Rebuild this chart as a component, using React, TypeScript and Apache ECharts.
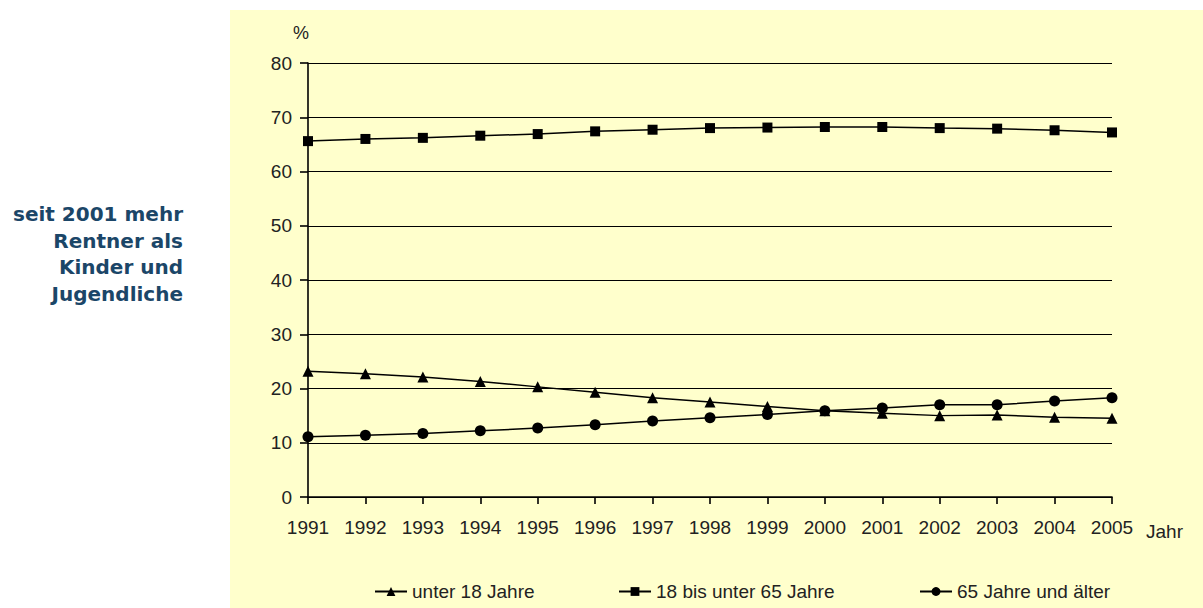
import React, { useEffect, useRef } from "react";
import * as echarts from "echarts";

// Altersstruktur der Bevölkerung, Anteile in %
const years = [
  "1991", "1992", "1993", "1994", "1995", "1996", "1997", "1998",
  "1999", "2000", "2001", "2002", "2003", "2004", "2005",
];
const unter18 = [23.2, 22.7, 22.1, 21.3, 20.3, 19.3, 18.3, 17.5, 16.7, 15.9, 15.45, 15.0, 15.1, 14.7, 14.5];
const von18bis65 = [65.6, 66.0, 66.2, 66.6, 66.9, 67.4, 67.7, 68.0, 68.1, 68.2, 68.2, 68.0, 67.9, 67.6, 67.2];
const ab65 = [11.1, 11.4, 11.7, 12.2, 12.7, 13.3, 14.0, 14.6, 15.2, 15.9, 16.4, 17.0, 17.0, 17.7, 18.3];

const seriesNames = ["unter 18 Jahre", "18 bis unter 65 Jahre", "65 Jahre und älter"];
const noteLines = ["seit 2001 mehr", "Rentner als", "Kinder und", "Jugendliche"];

const FONT = "'Liberation Sans', Arial, sans-serif";
const NOTE_FONT = "'DejaVu Sans', sans-serif";
const TEXT = "#222222";

export default function App() {
  const ref = useRef<HTMLDivElement>(null);

  useEffect(() => {
    if (!ref.current) return;
    const chart = echarts.init(ref.current, undefined, { renderer: "svg" });

    const lineSeries = (name: string, data: number[], symbol: string, size: number) => ({
      name,
      type: "line",
      data,
      symbol,
      symbolSize: size,
      showSymbol: true,
      color: "#000000",
      itemStyle: { color: "#000000" },
      lineStyle: { color: "#000000", width: 1.5 },
      z: 3,
    });

    const legend = (name: string, left: number) => ({
      data: [name],
      left,
      top: 577,
      itemWidth: 32,
      itemHeight: 11,
      itemGap: 0,
      textStyle: { fontFamily: FONT, fontSize: 19, color: TEXT },
    });

    chart.setOption({
      animation: false,
      textStyle: { fontFamily: FONT },
      grid: { left: 308, right: 91, top: 63, bottom: 111, containLabel: false },
      graphic: [
        {
          type: "rect",
          shape: { x: 230, y: 10, width: 973, height: 598 },
          style: { fill: "#FFFFCC" },
          z: -10,
          silent: true,
        },
        {
          type: "text",
          x: 293,
          y: 24,
          style: { text: "%", font: `18px ${FONT}`, fill: TEXT },
        },
        {
          type: "text",
          x: 1146,
          y: 522,
          style: { text: "Jahr", font: `19px ${FONT}`, fill: TEXT },
        },
        ...noteLines.map((line, i) => ({
          type: "text",
          x: 183,
          y: 204 + i * 26.6,
          style: {
            text: line,
            font: `bold 20px ${NOTE_FONT}`,
            fill: "#1B4668",
            align: "right",
          },
        })),
      ],
      legend: [
        legend(seriesNames[0], 369),
        legend(seriesNames[1], 613),
        legend(seriesNames[2], 914),
      ],
      xAxis: {
        type: "category",
        data: years,
        boundaryGap: false,
        axisLine: { show: true, lineStyle: { color: "#000000", width: 1.6 } },
        axisTick: { show: true, length: 7, lineStyle: { color: "#000000", width: 1.6 } },
        axisLabel: { fontFamily: FONT, fontSize: 19, color: TEXT, margin: 21 },
        splitLine: { show: false },
      },
      yAxis: {
        type: "value",
        min: 0,
        max: 80,
        interval: 10,
        axisLine: { show: true, lineStyle: { color: "#000000", width: 1.6 } },
        axisTick: { show: true, length: 8, lineStyle: { color: "#000000", width: 1.6 } },
        axisLabel: { fontFamily: FONT, fontSize: 19, color: TEXT, margin: 16 },
        splitLine: { show: true, lineStyle: { color: "#000000", width: 1.2 } },
      },
      series: [
        lineSeries(seriesNames[0], unter18, "triangle", 11),
        lineSeries(seriesNames[1], von18bis65, "rect", 10),
        lineSeries(seriesNames[2], ab65, "circle", 11),
      ],
    });

    return () => chart.dispose();
  }, []);

  return (
    <div
      ref={ref}
      style={{ position: "absolute", left: 0, top: 0, width: 1203, height: 608, background: "#FFFFFF" }}
    />
  );
}
